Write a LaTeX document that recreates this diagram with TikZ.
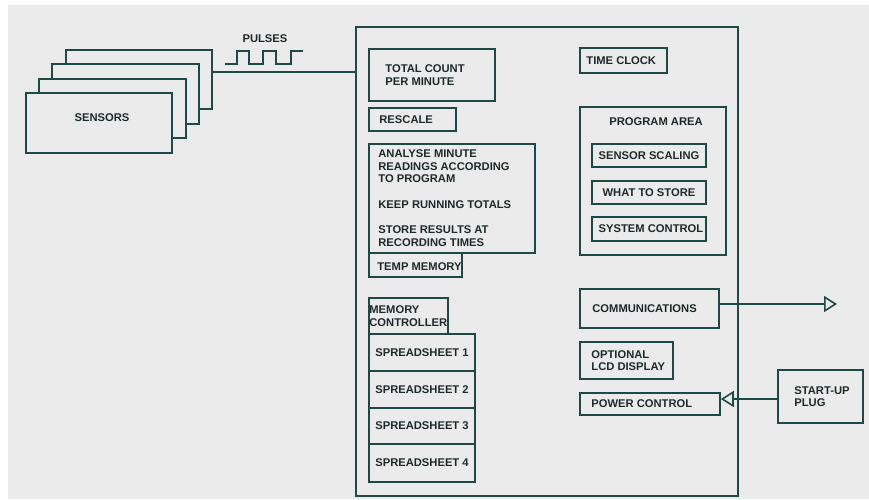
\documentclass[tikz,border=0pt]{standalone}
\usepackage{fontspec}
\setmainfont{Liberation Sans}
\usetikzlibrary{arrows.meta}
\definecolor{bg}{HTML}{EBEBEB}
\definecolor{ink}{RGB}{30,74,70}
\definecolor{txt}{RGB}{30,42,42}
\tikzset{
  box/.style={draw=ink, line width=1.6pt, fill=bg, inner sep=0pt, rectangle},
  lbl/.style={anchor=west, inner sep=0pt, align=left, text=txt,
    font=\fontsize{11.2}{12.7}\selectfont\bfseries},
  clbl/.style={lbl, anchor=center, align=center},
  conn/.style={draw=ink, line width=1.6pt},
  opentip/.style={-{Triangle[open, length=13pt, width=16pt]}}
}
\begin{document}
\begin{tikzpicture}[x=1pt, y=-1pt]
\useasboundingbox (0,0) rectangle (869,499);
\fill[white] (0,0) rectangle (869,499);
\fill[bg] (8,5) rectangle (869,499);

% sensors stack
\node[box, minimum width=146, minimum height=59] (s4) at (139,79.5) {};
\node[box, minimum width=147, minimum height=60] (s3) at (125.5,94) {};
\node[box, minimum width=147, minimum height=59] (s2) at (112.5,108.5) {};
\node[box, minimum width=146, minimum height=60] (s1) at (99,123) {};
\node[clbl] (s1t) at (102,118) {SENSORS};

% pulses
\node[clbl] (pulses) at (265,39) {PULSES};
\draw[ink, line width=1.4pt] (225,64) -- (237,64) -- (237,51) -- (249,51) -- (249,64)
  -- (263,64) -- (263,51) -- (276,51) -- (276,64) -- (291,64) -- (291,51) -- (303,51);

% main box
\node[box, fill=none, minimum width=382, minimum height=469] (main) at (547,261.5) {};
\coordinate (py) at (0,72);
\draw[conn] (s4.east |- py) -- (main.west |- py);

% left column
\node[box, minimum width=126, minimum height=52] (tc) at (432,75) {};
\node[lbl] (tct) at ([xshift=17pt]tc.west) {TOTAL COUNT\\PER MINUTE};
\node[box, minimum width=87, minimum height=23] (rs) at (412.5,119.5) {};
\node[lbl] (rst) at ([xshift=11pt]rs.west) {RESCALE};
\node[box, minimum width=166, minimum height=109] (an) at (452,198.5) {};
\node[lbl] (ant) at ([xshift=10pt,yshift=0.5pt]an.west) {ANALYSE MINUTE\\READINGS ACCORDING\\TO PROGRAM\\[12.7pt]KEEP RUNNING TOTALS\\[12.7pt]STORE RESULTS AT\\RECORDING TIMES};
\node[box, minimum width=93, minimum height=24] (tm) at (415.5,265) {};
\node[lbl] (tmt) at ([xshift=9pt,yshift=-2pt]tm.west) {TEMP MEMORY};

\node[box, minimum width=79, minimum height=36] (mc) at (408.5,316) {};
\node[lbl] (mct) at ([xshift=1pt]mc.west) {MEMORY\\CONTROLLER};
\node[box, minimum width=106, minimum height=37] (sp1) at (422,352.5) {};
\node[box, minimum width=106, minimum height=37] (sp2) at (422,389.5) {};
\node[box, minimum width=106, minimum height=36] (sp3) at (422,426) {};
\node[box, minimum width=106, minimum height=38] (sp4) at (422,463) {};
\node[clbl] (sp1t) at (sp1.center) {SPREADSHEET 1};
\node[clbl] (sp2t) at (sp2.center) {SPREADSHEET 2};
\node[clbl] (sp3t) at (sp3.center) {SPREADSHEET 3};
\node[clbl] (sp4t) at (sp4.center) {SPREADSHEET 4};

% right column
\node[box, minimum width=87, minimum height=25] (clk) at (623.5,60.5) {};
\node[lbl] (clkt) at ([xshift=7pt]clk.west) {TIME CLOCK};
\node[box, minimum width=146, minimum height=148] (pa) at (653,181) {};
\node[clbl] (pat) at (656,122) {PROGRAM AREA};
\node[box, minimum width=114, minimum height=23] (ss) at (649,155.5) {};
\node[clbl] (sst) at (ss.center) {SENSOR SCALING};
\node[box, minimum width=114, minimum height=23] (ws) at (649,192.5) {};
\node[clbl] (wst) at (ws.center) {WHAT TO STORE};
\node[box, minimum width=114, minimum height=24] (sc) at (649,229) {};
\node[clbl] (sct) at ([xshift=2pt]sc.center) {SYSTEM CONTROL};

\node[box, minimum width=139, minimum height=39] (cm) at (649.5,308.5) {};
\node[lbl] (cmt) at ([xshift=13pt]cm.west) {COMMUNICATIONS};
\node[box, minimum width=93, minimum height=37] (lcd) at (626.5,360.5) {};
\node[lbl] (lcdt) at ([xshift=12pt]lcd.west) {OPTIONAL\\LCD DISPLAY};
\node[box, minimum width=140, minimum height=22] (pw) at (650,404) {};
\node[lbl] (pwt) at ([xshift=12pt]pw.west) {POWER CONTROL};
\node[box, minimum width=85, minimum height=53] (pl) at (820.5,396.5) {};
\node[lbl] (plt) at ([xshift=17pt]pl.west) {START-UP\\PLUG};

% connectors
\coordinate (cy) at (0,304);
\coordinate (cend) at (837,304);
\draw[conn, opentip] (cm.east |- cy) -- (cend);
\coordinate (ply) at (0,399);
\draw[conn, opentip] (pl.west |- ply) -- (pw.east |- ply);
\end{tikzpicture}
\end{document}
